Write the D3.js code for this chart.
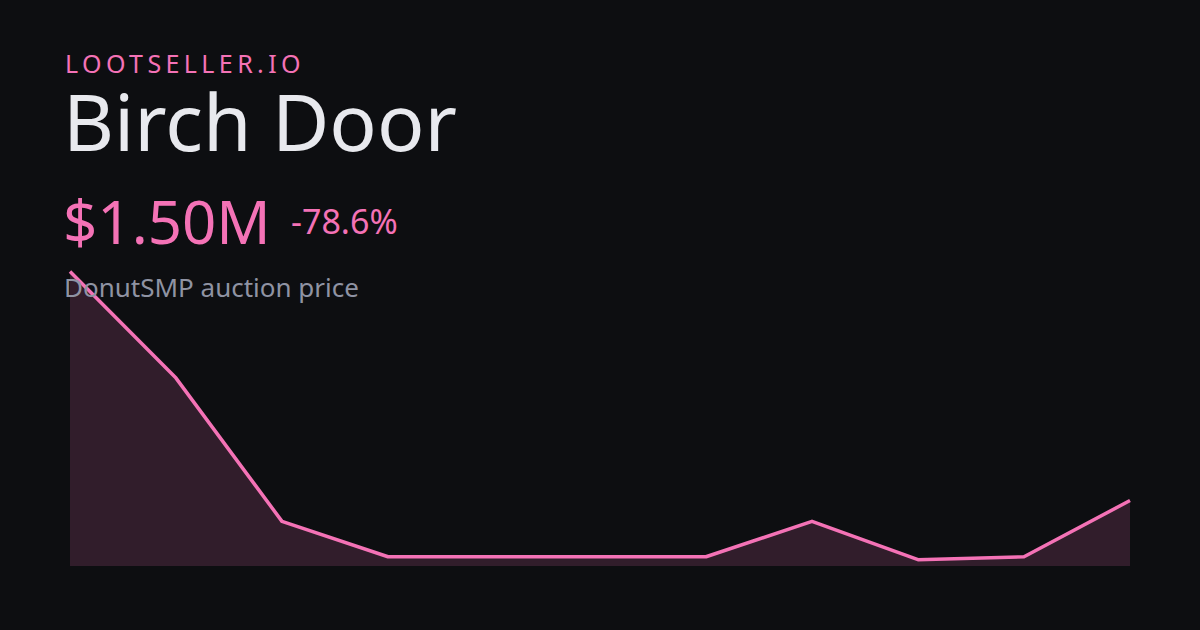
<!DOCTYPE html>
<html><head><meta charset="utf-8">
<script src="https://cdn.jsdelivr.net/npm/d3@7"></script>
<style>html,body{margin:0;padding:0;background:#0d0e11;}svg{display:block;}</style>
</head><body>
<script>
const brand = "LOOTSELLER.IO";
const itemName = "Birch Door";
const priceLabel = "$1.50M";
const changeLabel = "-78.6%";
const subtitle = "DonutSMP auction price";
const points = [0,1,2,3,4,5,6,7,8,9,10];
const prices = [7.0, 4.44, 1.0, 0.15, 0.15, 0.15, 0.15, 1.0, 0.08, 0.15, 1.5];

const W = 1200, H = 630;
const svg = d3.select("body").append("svg").attr("width", W).attr("height", H);
svg.append("rect").attr("width", W).attr("height", H).attr("fill", "#0d0e11");

const pink = "#f472b6";
const font = "'Noto Sans', 'Open Sans', sans-serif";

const x = d3.scaleLinear().domain([0, points.length - 1]).range([70, 1130]);
const y = d3.scaleLinear().domain([0, 7.0]).range([563, 271.5]);
const bottom = 566;
const data = points.map((p, i) => ({p, v: prices[i]}));

svg.append("path").datum(data)
  .attr("d", d3.area().x(d => x(d.p)).y0(bottom).y1(d => y(d.v)))
  .attr("fill", pink).attr("fill-opacity", 0.16);

svg.append("path").datum(data)
  .attr("d", d3.line().x(d => x(d.p)).y(d => y(d.v)))
  .attr("fill", "none").attr("stroke", pink).attr("stroke-width", 3.5)
  .attr("stroke-linejoin", "round");

svg.append("text").attr("x", 65).attr("y", 73).text(brand)
  .attr("font-family", font).attr("font-size", 25).attr("letter-spacing", 4.4).attr("fill", pink);
svg.append("text").attr("x", 63).attr("y", 151).text(itemName)
  .attr("font-family", font).attr("font-size", 78.6).attr("fill", "#e8e9ee");
svg.append("text").attr("x", 63).attr("y", 244).text(priceLabel)
  .attr("font-family", font).attr("font-size", 60).attr("fill", pink);
svg.append("text").attr("x", 291).attr("y", 234).text(changeLabel)
  .attr("font-family", font).attr("font-size", 34).attr("fill", pink);
svg.append("text").attr("x", 64).attr("y", 297).text(subtitle)
  .attr("font-family", font).attr("font-size", 26).attr("fill", "#8f93a3");
</script>
</body></html>
